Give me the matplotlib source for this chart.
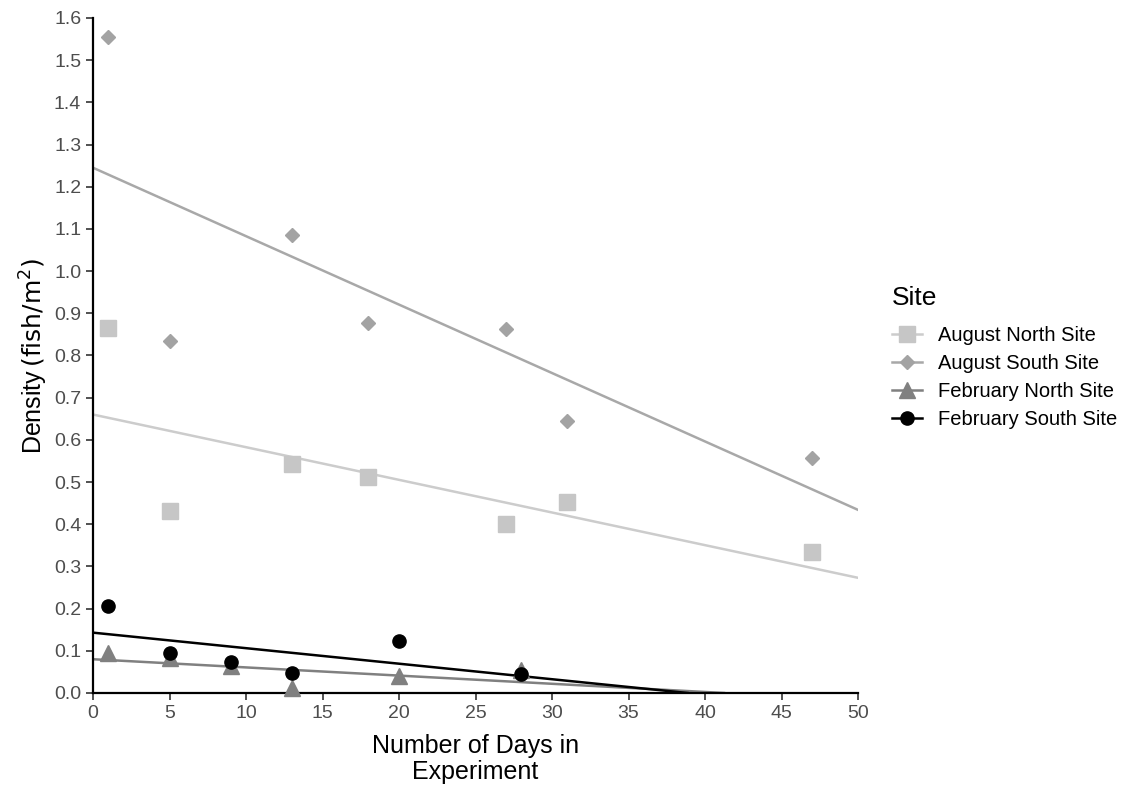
import matplotlib.pyplot as plt
import numpy as np
from matplotlib.lines import Line2D

# Data
sites = ['August North Site', 'August South Site', 'February North Site', 'February South Site']

aug_north_days = [1, 5, 13, 18, 27, 31, 47]
aug_north_density = [0.865, 0.432, 0.543, 0.512, 0.400, 0.453, 0.333]

aug_south_days = [1, 5, 13, 18, 27, 31, 47]
aug_south_density = [1.555, 0.835, 1.085, 0.878, 0.863, 0.645, 0.558]

feb_north_days = [1, 5, 9, 13, 20, 28]
feb_north_density = [0.095, 0.083, 0.063, 0.012, 0.041, 0.055]

feb_south_days = [1, 5, 9, 13, 20, 28]
feb_south_density = [0.207, 0.095, 0.073, 0.048, 0.124, 0.044]

# trend lines (intercept, slope)
fit_intercept = [0.660, 1.245, 0.080, 0.143]
fit_slope = [-0.00774, -0.01622, -0.00194, -0.00368]

days = [aug_north_days, aug_south_days, feb_north_days, feb_south_days]
density = [aug_north_density, aug_south_density, feb_north_density, feb_south_density]

# styles
markers = ['s', 'D', '^', 'o']
msizes = [11.5, 7, 11.5, 9.5]
mcolors = ['#c6c6c6', '#a3a3a3', '#808080', '#000000']
lcolors = ['#cccccc', '#a8a8a8', '#808080', '#000000']

font = ['Liberation Sans', 'DejaVu Sans']

fig = plt.figure(figsize=(11.25, 7.89), dpi=100)
ax = fig.add_axes([0.0827, 0.1217, 0.68, 0.8555])

for i in range(4):
    # trend line, stopped where it reaches zero
    x_end = 50.0
    if fit_intercept[i] + fit_slope[i] * 50 < 0:
        x_end = -fit_intercept[i] / fit_slope[i]
    xs = np.linspace(0, x_end, 100)
    ax.plot(xs, fit_intercept[i] + fit_slope[i] * xs, color=lcolors[i], lw=1.8, zorder=2)
    ax.plot(days[i], density[i], linestyle='none', marker=markers[i], ms=msizes[i],
            color=mcolors[i], mec=mcolors[i], zorder=3, clip_on=False)

ax.set_xlim(0, 50)
ax.set_ylim(0, 1.6)
ax.set_xticks(np.arange(0, 51, 5))
ax.set_yticks(np.arange(0, 1.61, 0.1))
ax.set_yticklabels([f'{v:.1f}' for v in np.arange(0, 1.61, 0.1)])

for s in ['top', 'right']:
    ax.spines[s].set_visible(False)
for s in ['left', 'bottom']:
    ax.spines[s].set_linewidth(1.6)
    ax.spines[s].set_color('black')
ax.tick_params(axis='both', direction='out', length=5, width=1.2, color='#333333',
               labelcolor='#4d4d4d')
for lab in ax.get_xticklabels():
    lab.set_family(font)
    lab.set_fontsize(14)
for lab in ax.get_yticklabels():
    lab.set_family(font)
    lab.set_fontsize(14)

ax.set_xlabel('Number of Days in\nExperiment', family=font, fontsize=18, linespacing=1.1,
              labelpad=9)
ax.set_ylabel(r'Density$\,\left(\mathrm{fish}/\mathrm{m}^2\right)$', family=font,
              fontsize=18, labelpad=3)

handles = [Line2D([0], [0], color=lcolors[i], lw=1.8, marker=markers[i], ms=msizes[i],
                  mfc=mcolors[i], mec=mcolors[i]) for i in range(4)]
leg = fig.legend(handles, sites, loc='upper left', bbox_to_anchor=(0.7765, 0.66),
                 frameon=False, title='Site', handlelength=1.5, handletextpad=0.8,
                 labelspacing=0.45, prop={'family': font, 'size': 14.5},
                 title_fontproperties={'family': font, 'size': 19})
leg._legend_box.align = 'left'
leg._legend_box.sep = 11

fig.savefig('out.png', dpi=100)
